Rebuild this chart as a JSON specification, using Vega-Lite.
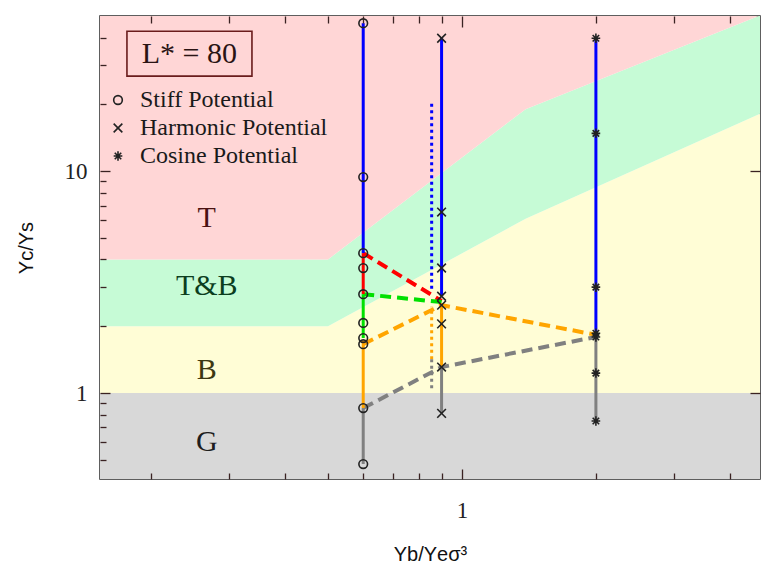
{
  "$schema": "https://vega.github.io/schema/vega-lite/v6.json",
  "width": 660,
  "height": 463,
  "autosize": {"type": "none"},
  "padding": {"left": 100, "top": 16, "right": 1, "bottom": 91},
  "background": "white",
  "config": {
    "font": "Liberation Serif",
    "view": {"stroke": "#2a2a2a", "strokeWidth": 1.5},
    "axis": {
      "grid": false,
      "domain": false,
      "tickColor": "#3a2222",
      "tickWidth": 1.3,
      "labelFont": "Liberation Serif",
      "labelFontSize": 23,
      "labelColor": "#222222",
      "titleFont": "Liberation Sans",
      "titleFontSize": 20,
      "titleFontWeight": "normal",
      "titleColor": "#111111"
    }
  },
  "resolve": {
    "axis": {"x": "independent", "y": "independent"},
    "scale": {"color": "independent"}
  },
  "datasets": {
    "bands": [
      {"band": "G", "x": 0.15, "lo": 0.4, "hi": 1},
      {"band": "G", "x": 4.7, "lo": 0.4, "hi": 1},
      {"band": "B", "x": 0.15, "lo": 1, "hi": 2},
      {"band": "B", "x": 0.5, "lo": 1, "hi": 2},
      {"band": "B", "x": 1.39, "lo": 1, "hi": 6.1},
      {"band": "B", "x": 4.7, "lo": 1, "hi": 18.2},
      {"band": "TB", "x": 0.15, "lo": 2, "hi": 4},
      {"band": "TB", "x": 0.5, "lo": 2, "hi": 4},
      {"band": "TB", "x": 1.39, "lo": 6.1, "hi": 19},
      {"band": "TB", "x": 4.7, "lo": 18.2, "hi": 50.5},
      {"band": "T", "x": 0.15, "lo": 4, "hi": 60},
      {"band": "T", "x": 0.5, "lo": 4, "hi": 60},
      {"band": "T", "x": 1.39, "lo": 19, "hi": 60},
      {"band": "T", "x": 4.7, "lo": 50.5, "hi": 60}
    ],
    "solid": [
      {"seg": "s1", "phase": "T", "x": 0.6, "y": 46.4},
      {"seg": "s1", "phase": "T", "x": 0.6, "y": 4.27},
      {"seg": "s2", "phase": "TT", "x": 0.6, "y": 4.27},
      {"seg": "s2", "phase": "TT", "x": 0.6, "y": 2.79},
      {"seg": "s3", "phase": "TB", "x": 0.6, "y": 2.79},
      {"seg": "s3", "phase": "TB", "x": 0.6, "y": 1.77},
      {"seg": "s4", "phase": "B", "x": 0.6, "y": 1.72},
      {"seg": "s4", "phase": "B", "x": 0.6, "y": 0.856},
      {"seg": "s5", "phase": "G", "x": 0.6, "y": 0.856},
      {"seg": "s5", "phase": "G", "x": 0.6, "y": 0.479},
      {"seg": "h1", "phase": "T", "x": 0.9, "y": 39.7},
      {"seg": "h1", "phase": "T", "x": 0.9, "y": 2.73},
      {"seg": "h2", "phase": "B", "x": 0.9, "y": 2.52},
      {"seg": "h2", "phase": "B", "x": 0.9, "y": 1.31},
      {"seg": "h3", "phase": "G", "x": 0.9, "y": 1.31},
      {"seg": "h3", "phase": "G", "x": 0.9, "y": 0.81},
      {"seg": "c1", "phase": "T", "x": 2, "y": 39.7},
      {"seg": "c1", "phase": "T", "x": 2, "y": 1.86},
      {"seg": "c2", "phase": "G", "x": 2, "y": 1.79},
      {"seg": "c2", "phase": "G", "x": 2, "y": 0.748}
    ],
    "dashed": [
      {"seg": "d1", "phase": "TT", "x": 0.6, "y": 4.27},
      {"seg": "d1", "phase": "TT", "x": 0.9, "y": 2.6},
      {"seg": "d2", "phase": "TB", "x": 0.6, "y": 2.79},
      {"seg": "d2", "phase": "TB", "x": 0.9, "y": 2.57},
      {"seg": "d3", "phase": "B", "x": 0.6, "y": 1.66},
      {"seg": "d3", "phase": "B", "x": 0.9, "y": 2.49},
      {"seg": "d3", "phase": "B", "x": 2, "y": 1.83},
      {"seg": "d4", "phase": "G", "x": 0.6, "y": 0.856},
      {"seg": "d4", "phase": "G", "x": 0.9, "y": 1.31},
      {"seg": "d4", "phase": "G", "x": 2, "y": 1.79}
    ],
    "dotted": [
      {"seg": "p1", "phase": "T", "x": 0.855, "y": 20.5},
      {"seg": "p1", "phase": "T", "x": 0.855, "y": 2.95},
      {"seg": "p2", "phase": "B", "x": 0.855, "y": 2.45},
      {"seg": "p2", "phase": "B", "x": 0.855, "y": 1.42},
      {"seg": "p3", "phase": "G", "x": 0.855, "y": 1.42},
      {"seg": "p3", "phase": "G", "x": 0.855, "y": 1.05}
    ],
    "points": [
      {"potential": "Stiff Potential", "x": 0.6, "y": 46.4},
      {"potential": "Stiff Potential", "x": 0.6, "y": 9.4},
      {"potential": "Stiff Potential", "x": 0.6, "y": 4.27},
      {"potential": "Stiff Potential", "x": 0.6, "y": 3.66},
      {"potential": "Stiff Potential", "x": 0.6, "y": 2.79},
      {"potential": "Stiff Potential", "x": 0.6, "y": 2.07},
      {"potential": "Stiff Potential", "x": 0.6, "y": 1.77},
      {"potential": "Stiff Potential", "x": 0.6, "y": 1.66},
      {"potential": "Stiff Potential", "x": 0.6, "y": 0.856},
      {"potential": "Stiff Potential", "x": 0.6, "y": 0.479},
      {"potential": "Harmonic Potential", "x": 0.9, "y": 39.7},
      {"potential": "Harmonic Potential", "x": 0.9, "y": 6.54},
      {"potential": "Harmonic Potential", "x": 0.9, "y": 3.66},
      {"potential": "Harmonic Potential", "x": 0.9, "y": 2.73},
      {"potential": "Harmonic Potential", "x": 0.9, "y": 2.49},
      {"potential": "Harmonic Potential", "x": 0.9, "y": 2.05},
      {"potential": "Harmonic Potential", "x": 0.9, "y": 1.31},
      {"potential": "Harmonic Potential", "x": 0.9, "y": 0.81},
      {"potential": "Cosine Potential", "x": 2, "y": 39.7},
      {"potential": "Cosine Potential", "x": 2, "y": 14.8},
      {"potential": "Cosine Potential", "x": 2, "y": 3.0},
      {"potential": "Cosine Potential", "x": 2, "y": 1.86},
      {"potential": "Cosine Potential", "x": 2, "y": 1.79},
      {"potential": "Cosine Potential", "x": 2, "y": 1.23},
      {"potential": "Cosine Potential", "x": 2, "y": 0.748}
    ],
    "regions": [
      {"label": "T", "x": 0.267, "y": 6.14},
      {"label": "T&B", "x": 0.267, "y": 3.05},
      {"label": "B", "x": 0.267, "y": 1.27},
      {"label": "G", "x": 0.267, "y": 0.601}
    ],
    "box": [
      {"text": "L* = 80", "x": 0.1767, "x2": 0.3374, "y": 26.8, "y2": 42.7, "xc": 0.244, "yc": 33.8}
    ]
  },
  "encoding": {
    "x": {"field": "x", "type": "quantitative", "scale": {"type": "log", "domain": [0.1537, 4.675], "nice": false, "zero": false}, "axis": null},
    "y": {"field": "y", "type": "quantitative", "scale": {"type": "log", "domain": [0.41, 50], "nice": false, "zero": false}, "axis": null}
  },
  "layer": [
    {
      "data": {"name": "bands"},
      "mark": {"type": "area", "clip": true, "interpolate": "linear"},
      "encoding": {
        "x": {"field": "x", "type": "quantitative", "scale": {"type": "log", "domain": [0.1537, 4.675], "nice": false, "zero": false},
          "axis": {"orient": "bottom", "zindex": 2, "values": [1], "tickSize": -10, "labelPadding": 30, "title": "Υb/Υeσ³", "titlePadding": 22}},
        "y": {"field": "lo", "type": "quantitative", "scale": {"type": "log", "domain": [0.41, 50], "nice": false, "zero": false},
          "axis": {"orient": "left", "zindex": 2, "values": [1, 10], "tickSize": -10, "labelPadding": 23, "title": "Υc/Υs", "titlePadding": 28}},
        "y2": {"field": "hi"},
        "color": {"field": "band", "type": "nominal", "legend": null,
          "scale": {"domain": ["G", "B", "TB", "T"], "range": ["#d8d8d8", "#fffdd6", "#c6fbd6", "#ffd6d6"]}}
      }
    },
    {
      "data": {"name": "regions"},
      "mark": {"type": "text", "fontSize": 30, "font": "Liberation Serif", "align": "center", "baseline": "middle"},
      "encoding": {
        "text": {"field": "label"},
        "color": {"field": "label", "type": "nominal", "legend": null,
          "scale": {"domain": ["T", "T&B", "B", "G"], "range": ["#4a1212", "#0c3e1e", "#3c3812", "#1e1e1e"]}}
      }
    },
    {
      "data": {"name": "box"},
      "mark": {"type": "rect", "fill": null, "fillOpacity": 0, "stroke": "#6a1c1c", "strokeWidth": 1.6},
      "encoding": {
        "x2": {"field": "x2"},
        "y2": {"field": "y2"}
      }
    },
    {
      "data": {"name": "box"},
      "mark": {"type": "text", "fontSize": 30, "font": "Liberation Serif", "align": "center", "baseline": "middle", "color": "#2a1414"},
      "encoding": {
        "x": {"field": "xc", "type": "quantitative", "scale": {"type": "log", "domain": [0.1537, 4.675], "nice": false, "zero": false}, "axis": null},
        "y": {"field": "yc", "type": "quantitative", "scale": {"type": "log", "domain": [0.41, 50], "nice": false, "zero": false}, "axis": null},
        "text": {"field": "text"}
      }
    },
    {
      "data": {"name": "dotted"},
      "mark": {"type": "line", "strokeWidth": 3, "strokeDash": [3, 3.5], "clip": true},
      "encoding": {
        "x": {"field": "x", "type": "quantitative", "scale": {"type": "log", "domain": [0.1537, 4.675], "nice": false, "zero": false},
          "axis": {"orient": "top", "zindex": 2, "values": [0.2, 0.3, 0.4, 0.5, 0.6, 0.7, 0.8, 0.9, 2, 3, 4], "tickSize": -7, "labels": false, "title": null}},
        "detail": {"field": "seg"},
        "order": {"field": "y"},
        "color": {"field": "phase", "type": "nominal", "legend": null,
          "scale": {"domain": ["T", "TT", "TB", "B", "G"], "range": ["#0000ff", "#ff0000", "#00e000", "#ffa500", "#808080"]}}
      }
    },
    {
      "data": {"name": "dashed"},
      "mark": {"type": "line", "strokeWidth": 4, "strokeDash": [11, 6], "clip": true},
      "encoding": {
        "x": {"field": "x", "type": "quantitative", "scale": {"type": "log", "domain": [0.1537, 4.675], "nice": false, "zero": false},
          "axis": {"orient": "top", "zindex": 2, "values": [1], "tickSize": -11, "labels": false, "title": null}},
        "y": {"field": "y", "type": "quantitative", "scale": {"type": "log", "domain": [0.41, 50], "nice": false, "zero": false},
          "axis": {"orient": "right", "zindex": 2, "values": [1, 10], "tickSize": -10, "labels": false, "title": null}},
        "detail": {"field": "seg"},
        "color": {"field": "phase", "type": "nominal", "legend": null,
          "scale": {"domain": ["T", "TT", "TB", "B", "G"], "range": ["#0000ff", "#ff0000", "#00e000", "#ffa500", "#808080"]}}
      }
    },
    {
      "data": {"name": "solid"},
      "mark": {"type": "line", "strokeWidth": 3, "clip": true},
      "encoding": {
        "x": {"field": "x", "type": "quantitative", "scale": {"type": "log", "domain": [0.1537, 4.675], "nice": false, "zero": false},
          "axis": {"orient": "bottom", "zindex": 2, "values": [0.2, 0.3, 0.4, 0.5, 0.6, 0.7, 0.8, 0.9, 2, 3, 4], "tickSize": -6, "labels": false, "title": null}},
        "y": {"field": "y", "type": "quantitative", "scale": {"type": "log", "domain": [0.41, 50], "nice": false, "zero": false},
          "axis": {"orient": "left", "zindex": 2, "values": [0.5, 0.6, 0.7, 0.8, 0.9, 2, 3, 4, 5, 6, 7, 8, 9, 20, 30, 40], "tickSize": -6, "labels": false, "title": null}},
        "detail": {"field": "seg"},
        "order": {"field": "y"},
        "color": {"field": "phase", "type": "nominal", "legend": null,
          "scale": {"domain": ["T", "TT", "TB", "B", "G"], "range": ["#0000ff", "#ff0000", "#00e000", "#ffa500", "#808080"]}}
      }
    },
    {
      "data": {"name": "points"},
      "mark": {"type": "point", "filled": false, "stroke": "#222222", "strokeWidth": 1.6, "size": 75, "opacity": 1, "clip": true},
      "encoding": {
        "shape": {"field": "potential", "type": "nominal",
          "scale": {"domain": ["Stiff Potential", "Harmonic Potential", "Cosine Potential"],
            "range": ["circle", "M-1,-1L1,1M-1,1L1,-1", "M-1,0L1,0M0,-1.1L0,1.1M-0.75,-0.75L0.75,0.75M-0.75,0.75L0.75,-0.75"]},
          "legend": {"title": null, "orient": "none", "legendX": 6, "legendY": 72, "labelFont": "Liberation Serif", "labelFontSize": 24, "labelColor": "#1a1a1a",
            "labelOffset": 10, "labelLimit": 400, "rowPadding": 4, "symbolSize": 75, "symbolStrokeColor": "#222222", "symbolFillColor": "transparent", "symbolStrokeWidth": 1.6, "padding": 0}}
      }
    }
  ]
}
